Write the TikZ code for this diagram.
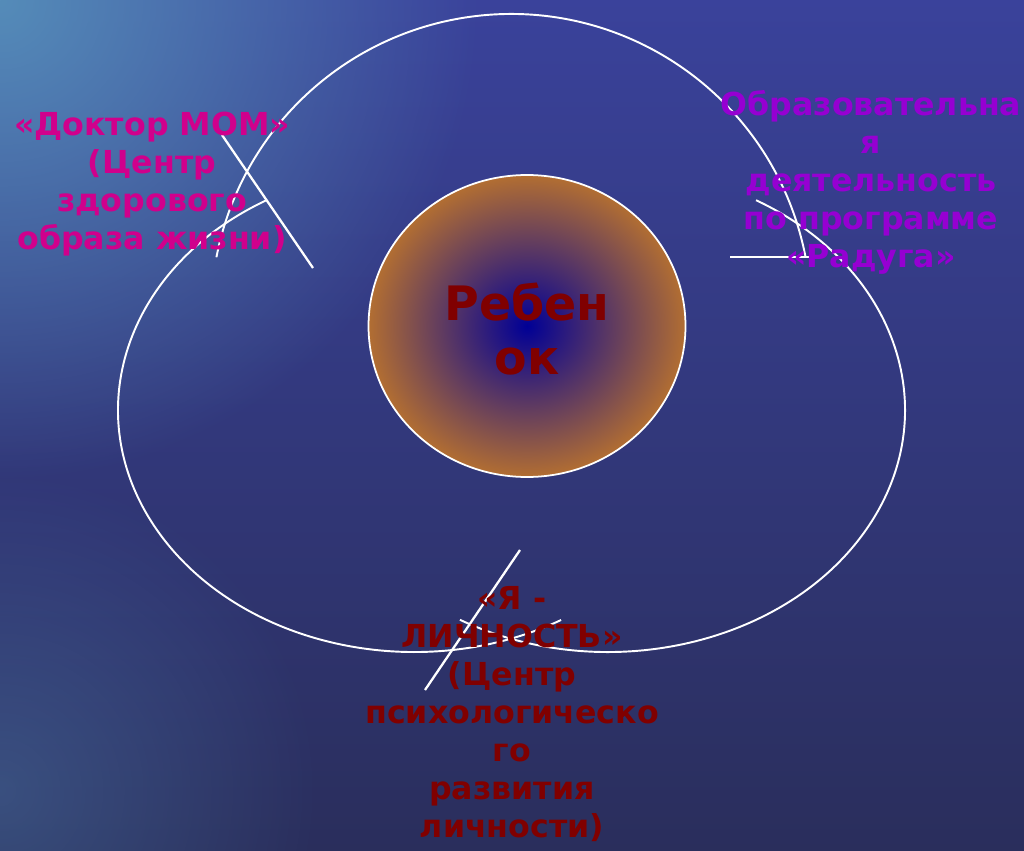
\documentclass[tikz,border=0pt]{standalone}
\usepackage{fontspec}
\setmainfont{DejaVu Sans}
\usetikzlibrary{fadings}
\definecolor{bgtop}   {RGB}{58,66,155}
\definecolor{bgmid}   {RGB}{40,46,112}
\definecolor{bgbot}   {RGB}{42,46,92}
\definecolor{bgglow}  {RGB}{85,140,185}
\definecolor{mompink} {RGB}{208,0,140}
\definecolor{radviolet}{RGB}{150,0,210}
\definecolor{kidred}  {RGB}{128,0,0}
\definecolor{kidblue} {RGB}{0,0,150}
\definecolor{kidbrown}{RGB}{178,110,50}
\tikzfading[name=glow,inner color=transparent!0,outer color=transparent!100]

\begin{document}
\begin{tikzpicture}[
      x=0.02cm,y=0.02cm,
      lbl/.style={align=center,font=\bfseries\fontsize{18}{21.6}\selectfont,inner sep=0pt},
      ring/.style={draw=white,line width=1.1pt},
      tick/.style={draw=white,line width=1.3pt}]
    % background
    \shade[top color=bgtop,middle color=bgmid,bottom color=bgbot] (0,0) rectangle (1024,850);
    \begin{scope}
      \clip (0,0) rectangle (1024,850);
      \fill[bgglow,path fading=glow] (0,850) circle (480);
      \fill[bgglow,path fading=glow,opacity=0.35] (0,60) circle (320);
    \end{scope}
    \useasboundingbox (0,0) rectangle (1024,850);

    % outline of three arcs
    \draw[ring] ([shift={(10.9:300)}]511,536) arc[start angle=10.9,end angle=169.1,radius=300];
    \draw[ring] ([shift={(119.8:296 and 242)}]414,440) arc[start angle=119.8,end angle=299.8,x radius=296,y radius=242];
    \draw[ring] ([shift={(60.1:297 and 242)}]608,440) arc[start angle=60.1,end angle=-119.9,x radius=297,y radius=242];

    % pointer lines
    \coordinate (momA) at (222,715);
    \coordinate (momB) at (313,582);
    \coordinate (radA) at (730,593);
    \coordinate (radB) at (810,593);
    \coordinate (yaA)  at (520,300);
    \coordinate (yaB)  at (425,160);
    \draw[tick] (momA) -- (momB);
    \draw[tick] (radA) -- (radB);
    \draw[tick] (yaA) -- (yaB);

    % child in the middle
    \shade[inner color=kidblue,outer color=kidbrown,draw=white,line width=1pt]
      (527,524) ellipse [x radius=158.5,y radius=151];
    \node[align=center,font=\bfseries\fontsize{27}{30.6}\selectfont,text=kidred,inner sep=0pt] (kid) at (527,521) {Ребен\\ок};

    % labels
    \node[lbl,text=mompink] (mom) at (152,666) {«Доктор МОМ»\\(Центр\\здорового\\образа жизни)};
    \node[lbl,text=radviolet] (rad) at (871,668) {Образовательна\\я\\деятельность\\по программе\\«Радуга»};
    \node[lbl,text=kidred] (ya) at (512,136) {«Я -\\ЛИЧНОСТЬ»\\(Центр\\психологическо\\го\\развития\\личности)};
  \end{tikzpicture}
\end{document}
